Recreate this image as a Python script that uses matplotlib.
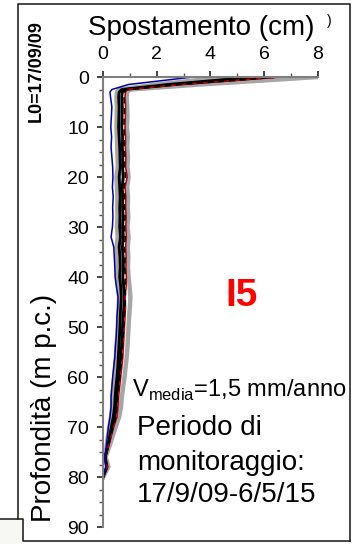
import matplotlib
matplotlib.use("Agg")
import matplotlib.pyplot as plt
from matplotlib.lines import Line2D
from matplotlib.patches import Rectangle
from matplotlib.ticker import MultipleLocator

plt.rcParams['font.family'] = ['Liberation Sans', 'DejaVu Sans']
plt.rcParams['mathtext.fontset'] = 'custom'
plt.rcParams['mathtext.rm'] = 'Liberation Sans'

# depth of readings (m from ground level)
depth = [0, 1.5, 2.5, 3, 4, 6, 8, 10, 12, 14, 16, 18, 20, 22, 24, 26, 28, 30,
         32, 34, 36, 38, 40, 42, 44, 46, 48, 50, 52, 54, 56, 58, 60, 62, 64,
         66, 68, 70, 72, 74, 76, 78, 80]

# cumulative displacement (cm), one list per reading
gray_right = [8.0, 3.6, 1.0, 0.9, 0.88, 0.9, 0.91, 0.89, 0.92, 0.9, 0.93, 0.91,
              0.95, 0.9, 0.93, 0.92, 0.94, 0.91, 0.95, 0.92, 0.94, 0.93, 0.95,
              0.99, 1.02, 1.0, 0.97, 0.95, 0.93, 0.91, 0.88, 0.84, 0.8, 0.75,
              0.7, 0.67, 0.6, 0.47, 0.35, 0.23, 0.1, 0.2, 0.0]
gray_mid = [7.1, 3.1, 0.85, 0.66, 0.64, 0.66, 0.65, 0.64, 0.67, 0.68, 0.69, 0.7,
            0.66, 0.67, 0.69, 0.68, 0.7, 0.68, 0.71, 0.66, 0.69, 0.7, 0.69,
            0.72, 0.75, 0.73, 0.7, 0.68, 0.66, 0.64, 0.62, 0.59, 0.56, 0.52,
            0.48, 0.46, 0.42, 0.33, 0.26, 0.18, 0.08, 0.18, 0.0]
gray_left = [4.6, 2.0, 0.62, 0.52, 0.5, 0.52, 0.51, 0.5, 0.52, 0.53, 0.54, 0.55,
             0.5, 0.52, 0.54, 0.53, 0.54, 0.52, 0.55, 0.5, 0.53, 0.54, 0.53,
             0.57, 0.6, 0.58, 0.56, 0.55, 0.53, 0.5, 0.48, 0.45, 0.42, 0.38,
             0.35, 0.34, 0.3, 0.24, 0.18, 0.13, 0.06, 0.16, 0.0]
black_left = [5.6, 2.4, 0.7, 0.6, 0.58, 0.6, 0.59, 0.58, 0.6, 0.62, 0.63, 0.64,
              0.6, 0.62, 0.64, 0.62, 0.63, 0.62, 0.65, 0.6, 0.63, 0.64, 0.62,
              0.66, 0.68, 0.66, 0.64, 0.63, 0.61, 0.59, 0.57, 0.55, 0.52, 0.48,
              0.45, 0.43, 0.38, 0.31, 0.24, 0.17, 0.08, 0.14, 0.0]
black_right = [6.3, 2.7, 0.8, 0.72, 0.7, 0.72, 0.71, 0.7, 0.73, 0.72, 0.74, 0.73,
               0.76, 0.71, 0.74, 0.73, 0.75, 0.73, 0.76, 0.72, 0.75, 0.76, 0.74,
               0.77, 0.8, 0.78, 0.75, 0.73, 0.71, 0.69, 0.66, 0.63, 0.59, 0.55,
               0.51, 0.48, 0.44, 0.35, 0.27, 0.18, 0.08, 0.15, 0.0]
red = [6.6, 2.9, 0.9, 0.84, 0.82, 0.84, 0.83, 0.82, 0.84, 0.83, 0.85, 0.84, 0.9,
       0.82, 0.85, 0.84, 0.86, 0.85, 0.87, 0.84, 0.86, 0.85, 0.87, 0.86, 0.82,
       0.84, 0.82, 0.80, 0.78, 0.76, 0.74, 0.7, 0.66, 0.62, 0.58, 0.56, 0.52,
       0.4, 0.3, 0.19, 0.07, 0.16, 0.0]
dashed = [6.5, 2.8, 0.86, 0.8, 0.78, 0.8, 0.79, 0.78, 0.8, 0.79, 0.81, 0.8, 0.84,
          0.78, 0.81, 0.8, 0.82, 0.8, 0.83, 0.79, 0.82, 0.81, 0.83, 0.82, 0.84,
          0.82, 0.79, 0.77, 0.75, 0.73, 0.7, 0.67, 0.63, 0.59, 0.55, 0.52, 0.48,
          0.38, 0.28, 0.18, 0.07, 0.15, 0.0]
blue = [3.35, 0.95, 0.33, 0.26, 0.28, 0.33, 0.31, 0.29, 0.32, 0.30, 0.33, 0.36,
        0.37, 0.35, 0.38, 0.36, 0.37, 0.35, 0.30, 0.40, 0.42, 0.44, 0.45, 0.50,
        0.56, 0.55, 0.52, 0.51, 0.49, 0.46, 0.44, 0.40, 0.36, 0.33, 0.30, 0.30,
        0.26, 0.20, 0.16, 0.12, 0.07, 0.10, 0.0]

period_lines = ['Periodo di', 'monitoraggio:', '17/9/09-6/5/15']

W, H = 353, 544
fig = plt.figure(figsize=(W / 100, H / 100), dpi=100)
ax = fig.add_axes([103 / W, 1 - 527 / H, 215 / W, 450 / H])

for vals in (gray_right, gray_mid, gray_left):
    ax.plot(vals, depth, color='#a6a6a6', lw=3.2, solid_joinstyle='round')
for vals in (black_left, black_right):
    ax.plot(vals, depth, color='black', lw=2.0)
ax.plot(red, depth, color='#c00000', lw=1.1)
ax.plot(dashed, depth, color='black', lw=1.1, dashes=(4, 3))
ax.plot(blue, depth, color='#0000a0', lw=1.1)

ax.set_xlim(0, 8)
ax.set_ylim(90, 0)
ax.xaxis.tick_top()
ax.xaxis.set_major_locator(MultipleLocator(2))
ax.xaxis.set_minor_locator(MultipleLocator(1))
ax.yaxis.set_major_locator(MultipleLocator(10))
ax.yaxis.set_minor_locator(MultipleLocator(2.5))
ax.tick_params(which='major', direction='out', length=4, width=1.2,
               color='#222222', labelsize=14, pad=6)
ax.tick_params(which='minor', direction='out', length=3, width=1.0,
               color='#555555')
for side in ('right', 'bottom'):
    ax.spines[side].set_visible(False)
for side in ('left', 'top'):
    ax.spines[side].set_color('#7f7f7f')
    ax.spines[side].set_linewidth(1.5)

fig.text(201 / W, 1 - 35 / H, 'Spostamento (cm)', fontsize=20,
         ha='center', va='baseline')
fig.text(329 / W, 1 - 21 / H, ')', fontsize=10, ha='center', va='center')
fig.text(44 / W, 1 - 408 / H, 'Profondità (m p.c.)', fontsize=20,
         rotation=90, ha='center', va='center')
fig.text(36 / W, 1 - 71 / H, 'L0=17/09/09', fontsize=13, fontweight='bold',
         rotation=90, ha='center', va='center')
fig.text(242 / W, 1 - 306 / H, 'I5', fontsize=28, fontweight='bold',
         color='#ff0000', ha='center', va='baseline')
fig.text(132 / W, 1 - 397 / H, r'V$_{\mathrm{media}}$=1,5 mm/anno',
         fontsize=17, ha='left', va='baseline')
for line, base in zip(period_lines, (435, 470, 502)):
    fig.text(137 / W, 1 - base / H, line, fontsize=20, ha='left', va='baseline')

# outer frames of the panel
frame = dict(color='#262626', lw=1.2, transform=fig.transFigure)
fig.add_artist(Rectangle((0, 0), 23 / W, 1 - 519 / H, transform=fig.transFigure,
                         facecolor='#f7f7f4', edgecolor='none'))
fig.add_artist(Line2D([18 / W, 18 / W, 350 / W, 350 / W],
                      [1 - 519 / H, 1 - 4 / H, 1 - 4 / H, 1 - 541 / H], **frame))
fig.add_artist(Line2D([0, 23 / W, 23 / W, 350 / W],
                      [1 - 519 / H, 1 - 519 / H, 1 - 541 / H, 1 - 541 / H], **frame))

fig.savefig('out.png', dpi=100)
